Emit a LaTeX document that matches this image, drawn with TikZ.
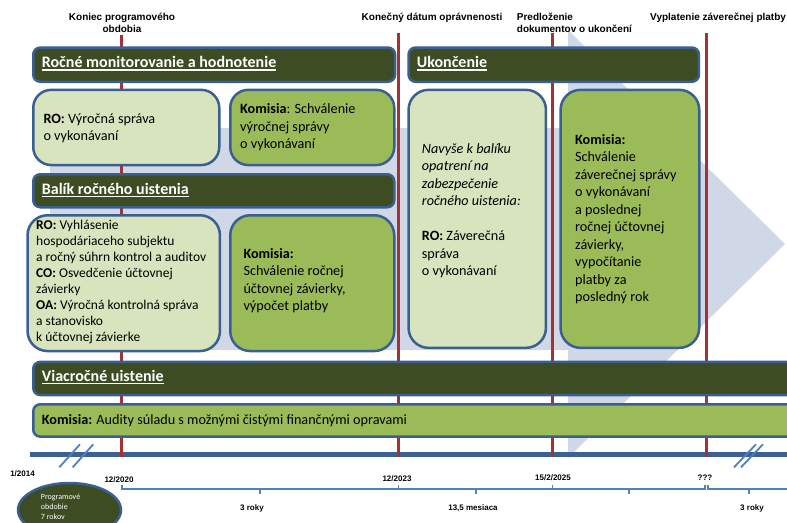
\documentclass[tikz,border=0pt]{standalone}
\usepackage{fontspec}
\setmainfont{Carlito}
\newfontfamily\arialf{Liberation Sans}
\usetikzlibrary{shapes.geometric}
\definecolor{dkgreen}{RGB}{61,76,34}
\definecolor{ltgreen}{RGB}{215,228,189}
\definecolor{mdgreen}{RGB}{155,187,89}
\definecolor{bordblue}{RGB}{58,95,145}
\definecolor{paleblue}{RGB}{208,216,232}
\definecolor{redline}{RGB}{163,50,50}
\definecolor{tlblue}{RGB}{60,96,145}
\definecolor{brblue}{RGB}{79,129,189}
\newcommand\myul[1]{\setbox0=\hbox{#1}\rlap{\rule[-2.8pt]{\wd0}{1.3pt}}\box0}
\begin{document}
\begin{tikzpicture}[x=1pt,y=-1pt,
  bar/.style={rectangle, draw=bordblue, line width=2.5pt, fill=dkgreen, rounded corners=7pt, inner sep=0pt, anchor=north west},
  gbar/.style={bar, fill=mdgreen},
  lbox/.style={rectangle, draw=bordblue, line width=2.5pt, fill=ltgreen, rounded corners=18pt, inner sep=0pt, anchor=north west},
  gbox/.style={lbox, fill=mdgreen},
  bartext/.style={text=white, font=\fontsize{16}{19}\selectfont\bfseries, inner sep=0pt, anchor=base west},
  boxtext/.style={font=\fontsize{14.2}{17.5}\selectfont, align=left, inner sep=0pt, anchor=base west},
  smalltext/.style={font=\fontsize{13.5}{16.05}\selectfont, align=left, inner sep=0pt, anchor=base west},
  toplabel/.style={font=\arialf\bfseries\fontsize{10}{12}\selectfont, inner sep=0pt},
  datelabel/.style={font=\arialf\bfseries\fontsize{8}{9.6}\selectfont, inner sep=0pt, anchor=base},
  marker/.style={draw=redline, line width=2.8pt},
  bracket/.style={draw=brblue, line width=1.1pt},
  midtick/.style={draw=brblue, line width=2pt},
  slash/.style={draw=brblue, line width=1.8pt}
]
\useasboundingbox (0,0) rectangle (787,522);
\clip (0,0) rectangle (787,522);
\fill[white] (0,0) rectangle (787,522);

% background chevron
\fill[paleblue] (50,128) -- (568,128) -- (568,30) -- (785,244) -- (568,458) -- (568,350) -- (50,350) -- cycle;

% timeline
\coordinate (tlA) at (30,454.5);
\coordinate (tlB) at (800,454.5);
\draw[tlblue, line width=4.4pt] (tlA) -- (tlB);

% red markers
\coordinate (m1t) at (121.7,35);  \coordinate (m1b) at (121.7,457);
\coordinate (m2t) at (398.3,33);  \coordinate (m2b) at (398.3,457);
\coordinate (m3t) at (552.5,33);  \coordinate (m3b) at (552.5,457);
\coordinate (m4t) at (706.7,33);  \coordinate (m4b) at (706.7,457);
\draw[marker] (m1t) -- (m1b);
\draw[marker] (m2t) -- (m2b);
\draw[marker] (m3t) -- (m3b);
\draw[marker] (m4t) -- (m4b);

% top labels (base = last line)
\node[toplabel, align=center, anchor=base] (lblA) at (122,32.7) {Koniec programového\\obdobia};
\node[toplabel, anchor=base] (lblB) at (432,20.7) {Konečný dátum oprávnenosti};
\node[toplabel, align=left, anchor=base west] (lblC) at (516.7,32.7) {Predloženie\\dokumentov o ukončení};
\node[toplabel, anchor=base west] (lblD) at (650,20.7) {Vyplatenie záverečnej platby};

% bars
\node[bar, minimum width=361.8pt, minimum height=34.2pt] (mon) at (32,46.3) {};
\node[bartext] (montxt) at (41.7,67.7) {\myul{Ročné monitorovanie  a hodnotenie}};
\node[bar, minimum width=290.4pt, minimum height=34.2pt] (ukon) at (407.3,46.3) {};
\node[bartext] (ukontxt) at (416.7,67.7) {\myul{Ukončenie}};

% upper boxes
\node[lbox, minimum width=186pt, minimum height=75.2pt] (ro1) at (32,88.6) {};
\node[boxtext] (ro1txt) at (43.3,140.5) {\textbf{RO:} Výročná správa\\o vykonávaní};
\node[gbox, minimum width=164pt, minimum height=75.2pt] (k1) at (229,88.6) {};
\node[boxtext] (k1txt) at (240,148.5) {\textbf{Komisia}: Schválenie\\výročnej správy\\o vykonávaní};

\node[bar, minimum width=361pt, minimum height=33pt] (balik) at (32,173) {};
\node[bartext] (baliktxt) at (41.7,194) {\myul{Balík ročného uistenia}};

\node[lbox, rounded corners=20pt, minimum width=192.4pt, minimum height=135.8pt] (ro2) at (26.3,214) {};
\node[smalltext] (ro2txt) at (36,341.7) {\textbf{RO:} Vyhlásenie\\hospodáriaceho subjektu\\a ročný súhrn kontrol a auditov\\\textbf{CO:} Osvedčenie účtovnej\\závierky\\\textbf{OA:} Výročná kontrolná správa\\a stanovisko\\k účtovnej závierke};
\node[gbox, rounded corners=20pt, minimum width=164pt, minimum height=135.8pt] (k2) at (229,214) {};
\node[boxtext] (k2txt) at (243.3,310.7) {\textbf{Komisia:}\\Schválenie ročnej\\účtovnej závierky,\\výpočet platby};

\node[lbox, rounded corners=20pt, minimum width=137.4pt, minimum height=258pt] (nav) at (407.3,88.6) {};
\node[boxtext] (navtxt) at (421.7,275.7) {\textit{Navyše k balíku}\\\textit{opatrení na}\\\textit{zabezpečenie}\\\textit{ročného uistenia:}\\\mbox{}\\\textbf{RO:} Záverečná\\správa\\o vykonávaní};
\node[gbox, rounded corners=20pt, minimum width=138.7pt, minimum height=258pt] (k3) at (559.3,88.6) {};
\node[boxtext] (k3txt) at (575,301.7) {\textbf{Komisia:}\\Schválenie\\záverečnej správy\\o vykonávaní\\a poslednej\\ročnej účtovnej\\závierky,\\vypočítanie\\platby za\\posledný rok};

% multi-annual bars
\node[bar, minimum width=800pt, minimum height=33.2pt] (viac) at (32,360.6) {};
\node[bartext] (viactxt) at (41.7,381) {\myul{Viacročné  uistenie}};
\node[gbar, minimum width=800pt, minimum height=32.4pt] (aud) at (32,403) {};
\node[boxtext] (audtxt) at (41.7,424) {\textbf{Komisia:} Audity súladu s možnými čistými finančnými opravami};

% break marks
\draw[slash] (59.3,467.3) -- (80,444.3);
\draw[slash] (72.7,467.3) -- (93.3,444.3);
\draw[slash] (734,467.3) -- (756,444.3);
\draw[slash] (741,467.3) -- (763,444.3);

% date labels
\node[datelabel] (d0) at (22.5,476.5) {1/2014};
\node[datelabel] (d1) at (119,482) {12/2020};
\node[datelabel] (d2) at (397,481) {12/2023};
\node[datelabel] (d3) at (553,480) {15/2/2025};
\node[datelabel] (d4) at (705,480) {???};

% brackets
\draw[bracket] (122,485) -- (122,489) -- (398.3,489) -- (398.3,485);
\draw[midtick] (260,489) -- (260,494);
\draw[bracket] (398.3,489) -- (552.5,489) -- (552.5,485);
\draw[midtick] (476,489) -- (476,494);
\draw[bracket] (552.5,489) -- (705,489) -- (705,485);
\draw[midtick] (629,489) -- (629,494);
\draw[bracket] (708,485) -- (708,489) -- (800,489);
\draw[midtick] (749,489) -- (749,494);

\node[datelabel] (span1) at (252,510) {3 roky};
\node[datelabel] (span2) at (473,510.5) {13,5 mesiaca};
\node[datelabel] (span3) at (752,510) {3 roky};

% programme period ellipse
\node[ellipse, draw=bordblue, line width=2.5pt, fill=dkgreen, minimum width=103pt, minimum height=54pt, inner sep=0pt] (period) at (69.5,510) {};
\node[text=white, font=\fontsize{8}{9.7}\selectfont, align=left, inner sep=0pt, anchor=base west] (periodtxt) at (40.7,519.3) {Programové\\obdobie\\7 rokov};
\end{tikzpicture}
\end{document}
